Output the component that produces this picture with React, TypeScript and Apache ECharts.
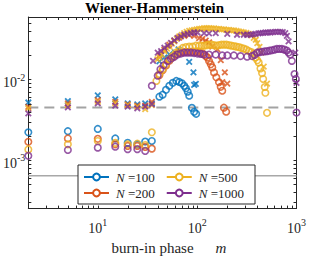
import React, { useEffect, useRef } from "react";
import * as echarts from "echarts";

const FONT = "'Liberation Serif', 'Times New Roman', serif";
const INK = "#262626";

const X_MIN = 2;
const X_MAX = 1000;
const Y_MIN = 2.5e-4;
const Y_MAX = 0.06;

const nLabels = ["100", "200", "500", "1000"];
const nColors = ["#0072BD", "#D95319", "#EDB120", "#7E2F8E"];

const dashedLevel = 4.5e-3;
const solidLevel = 6.4e-4;

const xMinorTicks = [3, 4, 5, 6, 7, 8, 9, 20, 30, 40, 50, 60, 70, 80, 90, 200, 300, 400, 500, 600, 700, 800, 900];
const yMinorTicks = [3e-4, 4e-4, 5e-4, 6e-4, 7e-4, 8e-4, 9e-4, 2e-3, 3e-3, 4e-3, 5e-3, 6e-3, 7e-3, 8e-3, 9e-3, 0.02, 0.03, 0.04, 0.05];

// N = 100
const n100CircleM = [2, 5, 10, 15, 20, 25, 30, 35, 41.7, 45, 48.6, 52.5, 56.9, 61.7, 66.1, 70.3, 74.1, 77.1, 80.4, 83.2, 88.5, 93.3, 97.7];
const n100CircleV = [2.22e-3, 2.29e-3, 2.44e-3, 1.86e-3, 1.64e-3, 1.57e-3, 1.7e-3, 1.73e-3, 6.15e-3, 6.5e-3, 7.48e-3, 8.37e-3, 9.12e-3, 9.64e-3, 9.37e-3, 8.99e-3, 8.37e-3, 7.81e-3, 7.08e-3, 6.32e-3, 4.46e-3, 3.98e-3, 3.76e-3];
const n100CrossM = [2, 5, 10, 15, 20, 25, 30, 35, 41.7, 46.8, 52.5, 59.8, 65, 83.2, 91.8, 93.3, 97];
const n100CrossV = [5.2e-3, 5.4e-3, 6.38e-3, 5.7e-3, 5.06e-3, 4.92e-3, 5.06e-3, 5.06e-3, 0.0169, 0.0189, 0.0206, 0.0218, 0.0237, 0.0166, 0.0123, 8.6e-3, 8.87e-3];

// N = 200
const n200CircleM = [2, 5, 10, 15, 20, 25, 30, 35, 41.7, 45, 48.6, 52.5, 56.5, 61.1, 66.1, 71.5, 77.1, 83.2, 89.9, 97, 104.7, 113, 122, 127, 131.8, 137, 142, 147.9, 156, 166, 172.6, 179, 186, 196];
const n200CircleV = [1.69e-3, 1.86e-3, 1.84e-3, 1.57e-3, 1.5e-3, 1.5e-3, 1.46e-3, 1.39e-3, 0.0113, 0.0131, 0.015, 0.0172, 0.0188, 0.0205, 0.0215, 0.0219, 0.0221, 0.0221, 0.0221, 0.0221, 0.0218, 0.0212, 0.0197, 0.0188, 0.0171, 0.0155, 0.0142, 0.0123, 0.0107, 9.29e-3, 8.15e-3, 7.28e-3, 4.48e-3, 4.0e-3];
const n200CrossM = [2, 5, 10, 15, 20, 25, 30, 35, 41.7, 46.8, 52.5, 58.9, 66.1, 74.1, 83.2, 93.3, 104.7, 113, 122, 132, 142, 160, 173, 179, 190, 201];
const n200CrossV = [4.6e-3, 5.06e-3, 5.55e-3, 5.3e-3, 4.92e-3, 4.74e-3, 4.74e-3, 5.3e-3, 0.02, 0.0236, 0.0272, 0.0305, 0.0332, 0.0351, 0.036, 0.0351, 0.0327, 0.032, 0.0305, 0.029, 0.0257, 0.0237, 0.0175, 9.3e-3, 0.0123, 8.9e-3];

// N = 500
const n500CircleM = [2, 5, 10, 15, 20, 25, 30, 35, 38.9, 41.7, 45, 48.6, 52.5, 56.5, 61.1, 66.1, 71.5, 77.1, 83.2, 89.9, 97, 104.7, 110.9, 117.5, 124.5, 131.8, 139.6, 147.9, 156.7, 166, 175.8, 186.2, 197.2, 208.9, 221.3, 234.4, 248.3, 263, 278.6, 295.1, 312.6, 331.1, 350.8, 371.5, 386, 403, 417, 434, 450, 462, 479, 486, 505];
const n500CircleV = [1.36e-3, 1.57e-3, 1.73e-3, 1.64e-3, 1.57e-3, 1.6e-3, 1.54e-3, 2.22e-3, 9.63e-3, 0.01175, 0.01348, 0.0155, 0.01785, 0.0196, 0.0216, 0.0232, 0.0248, 0.0254, 0.0258, 0.0258, 0.02645, 0.02645, 0.02645, 0.02645, 0.0268, 0.0272, 0.0272, 0.0268, 0.02645, 0.0268, 0.0272, 0.0272, 0.0272, 0.0268, 0.02645, 0.0261, 0.0257, 0.0254, 0.0248, 0.0243, 0.0236, 0.0227, 0.022, 0.0211, 0.0188, 0.0174, 0.0163, 0.0138, 0.01205, 0.0102, 0.0081, 0.00687, 0.00387];
const n500CrossM = [2, 5, 10, 15, 20, 25, 30, 35, 39.8, 41.7, 44.2, 46.8, 49.7, 52.5, 55.7, 58.9, 62.5, 66.1, 70.1, 74.1, 78.5, 83.2, 88.1, 93.3, 98.9, 104.7, 110.9, 117.5, 124.5, 131.8, 139.6, 147.9, 156.7, 166, 175.8, 186.2, 197.2, 208.9, 221.3, 234.4, 248.3, 263, 278.6, 295.1, 312.6, 331.1, 350.8, 371.5, 389, 403, 424, 442, 468, 505];
const n500CrossV = [4.4e-3, 4.82e-3, 5.3e-3, 5.06e-3, 4.82e-3, 4.6e-3, 4.31e-3, 4.82e-3, 0.01785, 0.0188, 0.0205, 0.0226, 0.0243, 0.0258, 0.028, 0.0299, 0.0322, 0.0344, 0.036, 0.0379, 0.0392, 0.0403, 0.0409, 0.0415, 0.0421, 0.0427, 0.0431, 0.0435, 0.0435, 0.0435, 0.0433, 0.0433, 0.0427, 0.0427, 0.0421, 0.0421, 0.0415, 0.0415, 0.0409, 0.0409, 0.0403, 0.0397, 0.0392, 0.0386, 0.0381, 0.037, 0.0355, 0.0331, 0.0313, 0.0285, 0.0255, 0.0217, 0.0145, 0.0089];

// N = 1000
const n1000CircleM = [2, 5, 10, 15, 20, 25, 30, 35, 40.1, 42.7, 46, 50.5, 54.6, 58.9, 63.5, 68.7, 74.1, 80, 86.5, 93.3, 100.7, 108.7, 117.5, 131.8, 153.8, 179, 201, 234.4, 273.5, 318.4, 357, 378, 401, 424, 450, 477, 505, 535, 566, 600, 635, 673, 713, 755, 800, 832, 865, 898, 955, 985, 1000];
const n1000CircleV = [1.13e-3, 1.34e-3, 1.43e-3, 1.47e-3, 1.37e-3, 1.37e-3, 1.3e-3, 8.37e-3, 0.01119, 0.01348, 0.01508, 0.0171, 0.0183, 0.0193, 0.0205, 0.0211, 0.0216, 0.0216, 0.0216, 0.0214, 0.0211, 0.0209, 0.0205, 0.0205, 0.0205, 0.02, 0.02, 0.02, 0.0196, 0.0193, 0.0196, 0.0203, 0.0216, 0.0219, 0.0222, 0.0224, 0.0226, 0.0229, 0.0232, 0.0236, 0.0241, 0.0241, 0.0241, 0.0236, 0.023, 0.0217, 0.0205, 0.0171, 0.01175, 0.0102, 0.0039];
const n1000CrossM = [2, 5, 10, 15, 20, 25, 30, 35, 36, 40.1, 43.4, 46.8, 50.5, 54.6, 58.9, 63.5, 68.7, 74.1, 80, 86.5, 93.3, 100.7, 117.5, 131.8, 153.8, 201, 252, 295, 318, 344, 363, 386, 413, 434, 459, 486, 514, 546, 578, 612, 649, 687, 727, 771, 800, 832, 971, 1000];
const n1000CrossV = [3.82e-3, 4.52e-3, 5.06e-3, 4.74e-3, 4.61e-3, 4.4e-3, 4.61e-3, 4.92e-3, 0.0171, 0.0216, 0.0226, 0.0249, 0.0265, 0.0286, 0.0308, 0.0329, 0.0344, 0.0361, 0.0371, 0.0379, 0.0385, 0.0385, 0.0379, 0.0375, 0.0379, 0.0371, 0.0361, 0.0361, 0.0361, 0.0361, 0.0366, 0.0371, 0.0375, 0.0379, 0.0382, 0.0385, 0.0385, 0.0385, 0.0389, 0.0393, 0.0393, 0.0393, 0.0389, 0.0379, 0.035, 0.0299, 0.0216, 0.00912];

const circleSets = [
  [n100CircleM, n100CircleV],
  [n200CircleM, n200CircleV],
  [n500CircleM, n500CircleV],
  [n1000CircleM, n1000CircleV],
];
const crossSets = [
  [n100CrossM, n100CrossV],
  [n200CrossM, n200CrossV],
  [n500CrossM, n500CrossV],
  [n1000CrossM, n1000CrossV],
];

const zip = (m: number[], v: number[]) => m.map((x, i) => [x, v[i]]);

const powLabel = (v: number) => {
  const e = Math.log10(v);
  const k = Math.round(e);
  if (Math.abs(e - k) > 1e-6) return "";
  return `{b|10}{s|${k}}`;
};

const tickRich = {
  b: { fontFamily: FONT, fontSize: 14, color: INK, lineHeight: 21 },
  s: { fontFamily: FONT, fontSize: 10, color: INK, lineHeight: 10, verticalAlign: "top" },
};

const CROSS = "path://M0,0L10,10M0,10L10,0";

function buildOption() {
  const series: any[] = [];
  series.push({
    type: "line",
    data: [[X_MIN, dashedLevel], [X_MAX, dashedLevel]],
    symbol: "none",
    silent: true,
    lineStyle: { color: "#a3a3a3", width: 2, type: [10, 6] },
    z: 1,
  });
  series.push({
    type: "line",
    data: [[X_MIN, solidLevel], [X_MAX, solidLevel]],
    symbol: "none",
    silent: true,
    lineStyle: { color: "#a8a8a8", width: 1.3 },
    z: 1,
  });
  for (let i = 0; i < 4; i++) {
    const [cm, cv] = circleSets[i];
    const [xm, xv] = crossSets[i];
    series.push({
      type: "scatter",
      data: zip(cm as number[], cv as number[]),
      symbol: "circle",
      symbolSize: 6.5,
      clip: false,
      silent: true,
      itemStyle: { color: "rgba(0,0,0,0)", borderColor: nColors[i], borderWidth: 1.6 },
      z: 3,
    });
    series.push({
      type: "scatter",
      data: zip(xm as number[], xv as number[]),
      symbol: CROSS,
      symbolSize: 5.5,
      clip: false,
      silent: true,
      itemStyle: { color: "rgba(0,0,0,0)", borderColor: nColors[i], borderWidth: 1.8 },
      z: 3,
    });
  }
  nLabels.forEach((n, i) => {
    series.push({
      type: "line",
      name: n,
      data: [],
      symbol: "emptyCircle",
      symbolSize: 7,
      itemStyle: { color: nColors[i] },
      lineStyle: { color: nColors[i], width: 1.5 },
    });
  });
  const tickStyle = { stroke: INK, lineWidth: 1 };
  series.push({
    type: "custom",
    coordinateSystem: "cartesian2d",
    silent: true,
    z: 6,
    data: xMinorTicks.map((v) => [v, Y_MIN]),
    renderItem: (_p: any, api: any) => {
      const v = api.value(0);
      const b = api.coord([v, Y_MIN]);
      const t = api.coord([v, Y_MAX]);
      const x = Math.round(b[0]) + 0.5;
      return {
        type: "group",
        children: [
          { type: "line", shape: { x1: x, y1: b[1], x2: x, y2: b[1] - 3 }, style: tickStyle },
          { type: "line", shape: { x1: x, y1: t[1], x2: x, y2: t[1] + 3 }, style: tickStyle },
        ],
      };
    },
  });
  series.push({
    type: "custom",
    coordinateSystem: "cartesian2d",
    silent: true,
    z: 6,
    data: yMinorTicks.map((v) => [X_MIN, v]),
    renderItem: (_p: any, api: any) => {
      const v = api.value(1);
      const l = api.coord([X_MIN, v]);
      const r = api.coord([X_MAX, v]);
      const y = Math.round(l[1]) + 0.5;
      return {
        type: "group",
        children: [
          { type: "line", shape: { x1: l[0], y1: y, x2: l[0] + 3, y2: y }, style: tickStyle },
          { type: "line", shape: { x1: r[0], y1: y, x2: r[0] - 3, y2: y }, style: tickStyle },
        ],
      };
    },
  });

  const axisCommon = {
    type: "log",
    logBase: 10,
    axisLine: { show: true, onZero: false, lineStyle: { color: INK, width: 1 } },
    axisTick: { show: true, inside: true, length: 3, lineStyle: { color: INK, width: 1 } },
    splitLine: { show: false },
    minorTick: { show: false },
  };

  return {
    animation: false,
    backgroundColor: "#fff",
    title: {
      text: "Wiener-Hammerstein",
      left: "center",
      top: 0,
      padding: [0, 0, 0, 16],
      textStyle: { fontFamily: FONT, fontSize: 15, fontWeight: "bold", color: "#000" },
    },
    grid: { left: 28, right: 11, top: 17, bottom: 47.5, containLabel: false },
    legend: {
      data: nLabels,
      orient: "vertical",
      left: 78,
      top: 165,
      height: 30,
      itemGap: 2,
      itemWidth: 25,
      itemHeight: 8.5,
      padding: [5, 2, 4, 5],
      backgroundColor: "#fff",
      borderColor: INK,
      borderWidth: 1,
      selectedMode: false,
      formatter: (name: string) => `{i|N} =${name}`,
      textStyle: {
        fontFamily: FONT,
        fontSize: 13,
        color: INK,
        lineHeight: 14,
        padding: [0, 9, 0, 2],
        rich: { i: { fontFamily: FONT, fontSize: 13, fontStyle: "italic", color: INK } },
      },
    },
    xAxis: [
      {
        ...axisCommon,
        position: "bottom",
        min: X_MIN,
        max: X_MAX,
        name: "{r|burn-in phase}{i|m}",
        nameLocation: "middle",
        nameGap: 31,
        nameTextStyle: {
          fontFamily: FONT,
          fontSize: 15,
          color: INK,
          padding: [0, 0, 0, 13],
          rich: {
            r: { fontFamily: FONT, fontSize: 15, color: INK },
            i: { fontFamily: FONT, fontSize: 15, fontStyle: "italic", color: INK, padding: [0, 0, 0, 22] },
          },
        },
        axisLabel: { show: true, margin: 9, formatter: powLabel, rich: tickRich, showMinLabel: true, showMaxLabel: true },
      },
      {
        ...axisCommon,
        position: "top",
        min: X_MIN,
        max: X_MAX,
        axisLabel: { show: false },
      },
    ],
    yAxis: [
      {
        ...axisCommon,
        position: "left",
        min: Y_MIN,
        max: Y_MAX,
        axisLabel: { show: true, margin: 3, padding: [6, 0, 0, 0], formatter: powLabel, rich: tickRich, showMinLabel: true, showMaxLabel: true },
      },
      {
        ...axisCommon,
        position: "right",
        min: Y_MIN,
        max: Y_MAX,
        axisLabel: { show: false },
      },
    ],
    series,
  };
}

export default function App() {
  const ref = useRef<HTMLDivElement>(null);
  useEffect(() => {
    if (!ref.current) return;
    const chart = echarts.init(ref.current, null, { renderer: "svg" });
    chart.setOption(buildOption() as any);
    return () => chart.dispose();
  }, []);
  return <div ref={ref} style={{ position: "fixed", left: 0, top: 0, width: 309, height: 260 }} />;
}
